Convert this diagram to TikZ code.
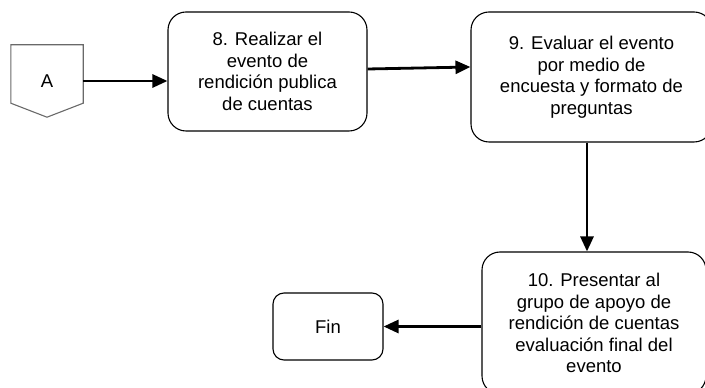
\documentclass[tikz,border=0pt]{standalone}
\usepackage{fontspec}
\setmainfont{Liberation Sans}
\usepackage{tikz}
\usetikzlibrary{arrows.meta, positioning, calc}
\definecolor{mydark}{RGB}{0,0,0}
\definecolor{mygray}{RGB}{105,105,105}
\tikzset{
  block/.style={rectangle, draw=mydark, fill=white, align=center,
    inner sep=0pt, rounded corners=18pt, line width=1.1pt,
    font=\fontsize{18.5}{21.5}\selectfont},
  endblock/.style={rectangle, draw=mydark, fill=white, align=center,
    inner sep=0pt, rounded corners=11pt, line width=1.1pt,
    font=\fontsize{18.5}{21.5}\selectfont},
  offpage/.style={rectangle, inner sep=0pt,
    font=\fontsize{18.5}{21.5}\selectfont},
  arrow/.style={-{Triangle[length=15pt, width=13pt]}, line width=2.8pt, color=mydark}
}
\begin{document}
\begin{tikzpicture}[x=1pt, y=1pt]
  \useasboundingbox (0,0) rectangle (705,388);
  \clip (0,0) rectangle (705,388);
  % Off-page connector
  \node[offpage, minimum width=72pt, minimum height=72pt] (conA) at (47,307) {A};
  \draw[draw=mygray, line width=1.1pt] (conA.north west) -- (conA.north east)
    -- ($(conA.south east)+(0,14)$) -- (conA.south)
    -- ($(conA.south west)+(0,14)$) -- cycle;
  % Activities
  \node[block, minimum width=199pt, minimum height=119pt] (act8) at (267.5,316.5)
    {8. Realizar el\\evento de\\rendición publica\\de cuentas};
  \node[block, minimum width=241pt, minimum height=130pt] (act9) at (591.5,311)
    {9. Evaluar el evento\\por medio de\\encuesta y formato de\\preguntas};
  \node[block, minimum width=224pt, minimum height=142pt] (act10) at (594,65)
    {10. Presentar al\\grupo de apoyo de\\rendición de cuentas\\evaluación final del\\evento};
  % End
  \node[endblock, minimum width=110pt, minimum height=67pt] (fin) at (328,61.5) {Fin};

  % Connectors
  \draw[arrow] (conA.east) -- (conA.east -| act8.west);
  \draw[arrow] ([yshift=2.5pt]act8.east) -- ([yshift=10pt]act9.west);
  \draw[arrow] ([xshift=-4.5pt]act9.south) -- ([xshift=-4.5pt]act9.south |- act10.north);
  \draw[arrow] (act10.west |- fin.east) -- (fin.east);
\end{tikzpicture}
\end{document}
